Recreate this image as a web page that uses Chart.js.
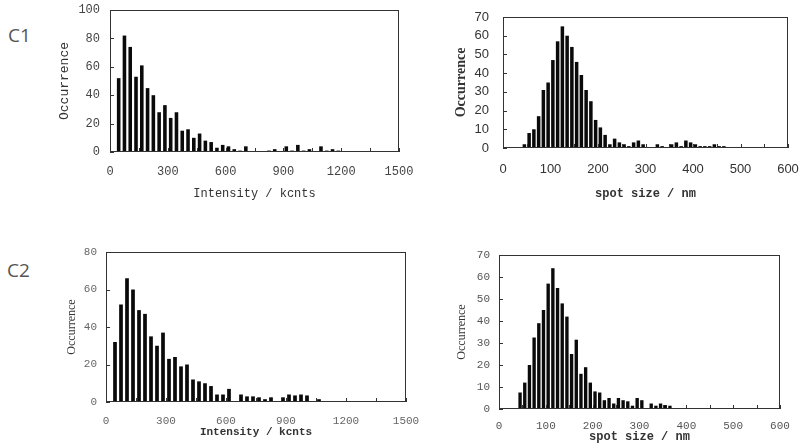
<!DOCTYPE html>
<html lang="en">
<head>
  <meta charset="UTF-8" />
  <title>Histograms C1 / C2</title>
  <script src="https://cdn.jsdelivr.net/npm/chart.js"></script>
  <style>
    body { margin:0; background:#fff; width:800px; height:447px; overflow:hidden; position:relative; }
    .panel { position:absolute; }
    .tag { position:absolute; font-family:'Open Sans',sans-serif; font-size:19px; color:#555; }
  </style>
</head>
<body>
  <div class="tag" style="left:8px; top:22px;">C1</div>
  <div class="tag" style="left:7px; top:257px;">C2</div>

  <div class="panel" style="left:40px; top:0px;"><canvas id="c1int" width="380" height="215"></canvas></div>
  <div class="panel" style="left:440px; top:0px;"><canvas id="c1size" width="360" height="215"></canvas></div>
  <div class="panel" style="left:40px; top:230px;"><canvas id="c2int" width="385" height="217"></canvas></div>
  <div class="panel" style="left:440px; top:230px;"><canvas id="c2size" width="360" height="217"></canvas></div>

  <script>
    // bin centres (kcnts) and counts, C1 intensity
    const c1IntBins = [45,75,105,135,165,195,225,255,285,315,345,375,405,435,465,495,525,555,585,615,
                       645,675,705,735,765,795,825,855,885,915,945,975,1005,1035,1065,1095,1125,1155,1185];
    const c1IntCounts = [52,82,74,53,61,45,40,28,33,24,28,15,16,10,13,8,7,3,5,4,
                         2,1,4,0,0.5,0,1,2,0,4,1,5,1,2,0,4,1,2,1];

    // bin centres (nm) and counts, C1 spot size
    const c1SizeBins = [45,55,65,75,85,95,105,115,125,135,145,155,165,175,185,195,205,215,225,235,
                        245,255,265,275,285,295,305,315,325,335,345,355,365,375,385,395,405,415,425,435,
                        445,455,465];
    const c1SizeCounts = [2,8,10,17,31,35,47,57,65,60,54,46,39,31,25,15,11,7,2,5,
                          3,2,1,3,4,2,0,0,2,1,0,2,3,1,4,3,2,1,1,1,
                          2,1,1];

    // C2 intensity
    const c2IntBins = [45,75,105,135,165,195,225,255,285,315,345,375,405,435,465,495,525,555,585,615,
                       645,675,705,735,765,795,825,855,885,915,945,975,1005,1035,1065];
    const c2IntCounts = [32,52,66,60,49,47,35,30,37,23,24,19,20,12,11,10,8.5,4,4,7,
                         0,4,3,3,2.5,1.5,2.5,0,2.5,4,3.5,4,3.5,0,1.5];

    // C2 spot size
    const c2SizeBins = [45,55,65,75,85,95,105,115,125,135,145,155,165,175,185,195,205,215,225,235,
                        245,255,265,275,285,295,305,315,325,335,345,355,365];
    const c2SizeCounts = [7.5,12,20,32.5,39,45,57,64,55,48,42,25,31.5,16,19,12,8,7.5,4,5,
                          2.5,5,4,3.5,1.5,5,4,0,2.5,1.5,2.5,1.8,1.5];

    const frame = {
      id: 'frame',
      afterDatasetsDraw(chart) {
        const { ctx, chartArea: a, scales: { x, y } } = chart;
        ctx.save();
        ctx.strokeStyle = '#333';
        ctx.lineWidth = 1;
        ctx.strokeRect(Math.round(a.left) + .5, Math.round(a.top) + .5,
                       Math.round(a.width) - 1, Math.round(a.height) - 1);
        ctx.beginPath();
        x.ticks.forEach(t => {
          const px = Math.round(x.getPixelForValue(t.value)) + .5;
          ctx.moveTo(px, a.bottom); ctx.lineTo(px, a.bottom - 4);
        });
        y.ticks.forEach(t => {
          const py = Math.round(y.getPixelForValue(t.value)) + .5;
          ctx.moveTo(a.left, py); ctx.lineTo(a.left + 4, py);
        });
        ctx.stroke();
        ctx.restore();
      }
    };

    function histo(id, bins, counts, o) {
      new Chart(document.getElementById(id), {
        type: 'bar',
        data: {
          datasets: [{
            data: bins.map((b, i) => ({ x: b, y: counts[i] })),
            backgroundColor: '#0a0a0a',
            barPercentage: o.bar,
            categoryPercentage: 1
          }]
        },
        options: {
          responsive: false,
          animation: false,
          devicePixelRatio: 1,
          layout: { padding: { top: o.top, right: o.right, left: 0, bottom: 0 } },
          plugins: { legend: { display: false }, tooltip: { enabled: false } },
          scales: {
            x: {
              type: 'linear', min: 0, max: o.xmax, offset: false,
              grid: { display: false, drawTicks: false },
              border: { display: false },
              afterFit: s => { s.height = o.xh; s.paddingLeft = 0; s.paddingRight = 0; },
              afterBuildTicks: s => { s.ticks = o.xticks.map(v => ({ value: v })); },
              ticks: {
                autoSkip: false, maxRotation: 0, padding: o.xpad,
                color: o.tickColor, font: o.xtickFont,
                callback: v => (v % o.xlab === 0 ? v : '')
              },
              title: { display: true, text: o.xtitle, color: '#333', font: o.xtitleFont,
                       padding: { top: 0, bottom: o.xtpad } }
            },
            y: {
              min: 0, max: o.ymax,
              grid: { display: false, drawTicks: false },
              border: { display: false },
              afterFit: s => { s.width = o.yw; s.paddingTop = 0; s.paddingBottom = 0; },
              ticks: { stepSize: o.ystep, autoSkip: false, padding: o.ypad,
                       color: o.tickColor, font: o.ytickFont },
              title: { display: true, text: 'Occurrence', color: '#333', font: o.ytitleFont,
                       padding: { top: o.ytpad, bottom: 0 } }
            }
          }
        },
        plugins: [frame]
      });
    }

    const mono = 'Liberation Mono, DejaVu Sans Mono, monospace';
    const serif = 'Liberation Serif, DejaVu Serif, serif';
    const sans = 'Liberation Sans, Arial, sans-serif';

    histo('c1int', c1IntBins, c1IntCounts, {
      xmax: 1500, xticks: [0,150,300,450,600,750,900,1050,1200,1350,1500], xlab: 300,
      ymax: 100, ystep: 20, bar: 0.62,
      top: 10, right: 21, xh: 63, yw: 70, xpad: 13, ypad: 10, xtpad: 14, ytpad: 17,
      tickColor: '#444', xtitle: 'Intensity / kcnts',
      xtickFont: { family: mono, size: 12 }, ytickFont: { family: mono, size: 12 },
      xtitleFont: { family: mono, size: 12 }, ytitleFont: { family: mono, size: 13 }
    });

    histo('c1size', c1SizeBins, c1SizeCounts, {
      xmax: 600, xticks: [0,50,100,150,200,250,300,350,400,450,500,550,600], xlab: 100,
      ymax: 70, ystep: 10, bar: 0.74,
      top: 17, right: 12, xh: 67, yw: 63, xpad: 14, ypad: 14, xtpad: 14, ytpad: 13,
      tickColor: '#333', xtitle: 'spot size / nm',
      xtickFont: { family: sans, size: 13 }, ytickFont: { family: sans, size: 13 },
      xtitleFont: { family: mono, size: 12, weight: 'bold' },
      ytitleFont: { family: serif, size: 14, weight: 'bold' }
    });

    histo('c2int', c2IntBins, c2IntCounts, {
      xmax: 1500, xticks: [0,150,300,450,600,750,900,1050,1200,1350,1500], xlab: 300,
      ymax: 80, ystep: 20, bar: 0.62,
      top: 22, right: 19, xh: 45, yw: 66, xpad: 12, ypad: 9, xtpad: 8, ytpad: 25,
      tickColor: '#666', xtitle: 'Intensity / kcnts',
      xtickFont: { family: mono, size: 11 }, ytickFont: { family: mono, size: 11 },
      xtitleFont: { family: mono, size: 11, weight: 'bold' }, ytitleFont: { family: serif, size: 12 }
    });

    histo('c2size', c2SizeBins, c2SizeCounts, {
      xmax: 600, xticks: [0,50,100,150,200,250,300,350,400,450,500,550,600], xlab: 100,
      ymax: 70, ystep: 10, bar: 0.72,
      top: 25, right: 20, xh: 38, yw: 59, xpad: 10, ypad: 9, xtpad: 3, ytpad: 15,
      tickColor: '#555', xtitle: 'spot size / nm',
      xtickFont: { family: mono, size: 11 }, ytickFont: { family: mono, size: 11 },
      xtitleFont: { family: mono, size: 12, weight: 'bold' }, ytitleFont: { family: serif, size: 12 }
    });
  </script>
</body>
</html>
